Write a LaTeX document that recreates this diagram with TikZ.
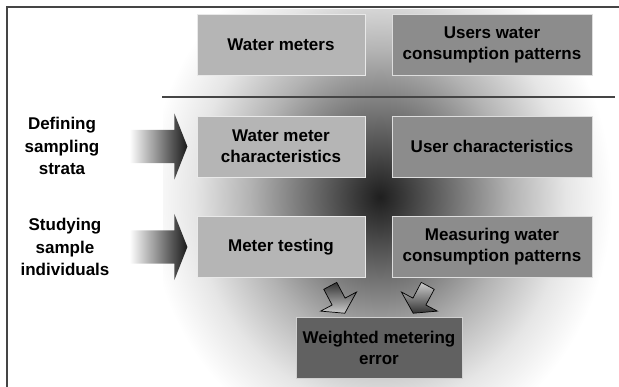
\documentclass[tikz,border=0pt]{standalone}
\usepackage{fontspec}
\setmainfont{Liberation Sans}
\usetikzlibrary{shapes.arrows,positioning}

\definecolor{boxlight}{gray}{0.71}
\definecolor{boxdark}{gray}{0.55}
\definecolor{boxdeep}{gray}{0.38}
\definecolor{rulegray}{gray}{0.27}
\colorlet{glowA}{black!88}
\colorlet{glowB}{black!78}
\colorlet{glowC}{black!55}
\colorlet{glowD}{black!30}
\colorlet{glowE}{black!10}
\pgfdeclareradialshading{centreglow}{\pgfpoint{0bp}{0bp}}{color(0bp)=(glowA); color(2.5bp)=(glowB); color(8bp)=(glowC); color(14bp)=(glowD); color(20bp)=(glowE); color(25bp)=(white); color(50bp)=(white)}

\newcommand{\boxfont}{\fontsize{17}{21}\selectfont\bfseries}

\tikzset{
  lightbox/.style={fill=boxlight, draw=white!70!boxlight, line width=0.8pt, minimum width=168pt, minimum height=61pt, inner sep=0pt, align=center, font=\boxfont},
  darkbox/.style={lightbox, fill=boxdark, draw=white!70!boxdark, minimum width=200pt},
  deepbox/.style={lightbox, fill=boxdeep, draw=white!70!boxdeep, minimum width=166pt},
  sidelabel/.style={align=center, inner sep=0pt, font=\fontsize{17}{22.5}\selectfont\bfseries},
  bigarrow/.style={single arrow, minimum height=58pt, inner xsep=0pt, inner ysep=16.5pt, single arrow head extend=16.5pt, single arrow tip angle=137, left color=white, right color=black!90},
  smallarrow/.style={single arrow, draw=black, line width=0.7pt, minimum height=31pt, inner xsep=0pt, inner ysep=7pt, single arrow head extend=13pt, single arrow tip angle=114},
}

\begin{document}
\begin{tikzpicture}[x=1pt, y=-1pt]
\useasboundingbox (0,0) rectangle (619,387);

% background glow
\begin{scope}
\clip (163,10) rectangle (612,387);
\shade[shading=centreglow] (148,-63) rectangle (612,457);
\end{scope}

% frame and rule
\draw[rulegray, line width=2pt] (7,387) -- (7,7.5) -- (619,7.5);
\draw[rulegray, line width=2.2pt] (162,97) -- (615,97);

% top row
\node[lightbox] (meters) at (281,45) {Water meters};
\node[darkbox] (patterns) at (492,45) {Users water\\consumption patterns};

% strata row
\node[lightbox] (meterchar) at (281,146.5) {Water meter\\characteristics};
\node[darkbox] (userchar) at (492,146.5) {User characteristics};

% sample row
\node[lightbox] (testing) at (281,247) {Meter testing};
\node[darkbox] (measuring) at (492,247) {Measuring water\\consumption patterns};

% result
\node[deepbox] (error) at (379,347.5) {Weighted metering\\error};

% side labels and arrows
\node[bigarrow, anchor=tip] (strataarrow) at ([xshift=-9pt]meterchar.west) {};
\node[sidelabel] (strata) at (62,146) {Defining\\sampling\\strata};
\node[bigarrow, anchor=tip] (samplearrow) at ([xshift=-9pt]testing.west) {};
\node[sidelabel] (sample) at (65,247) {Studying\\sample\\individuals};

% arrows into the result
\node[smallarrow, rotate=-62, anchor=tip, top color=black!80, bottom color=white!80!black] (testdrop) at ([xshift=-34pt, yshift=3pt]error.north) {};
\node[smallarrow, rotate=-118, anchor=tip, top color=white!80!black, bottom color=black!80] (measuredrop) at ([xshift=34pt, yshift=3pt]error.north) {};
\end{tikzpicture}
\end{document}
